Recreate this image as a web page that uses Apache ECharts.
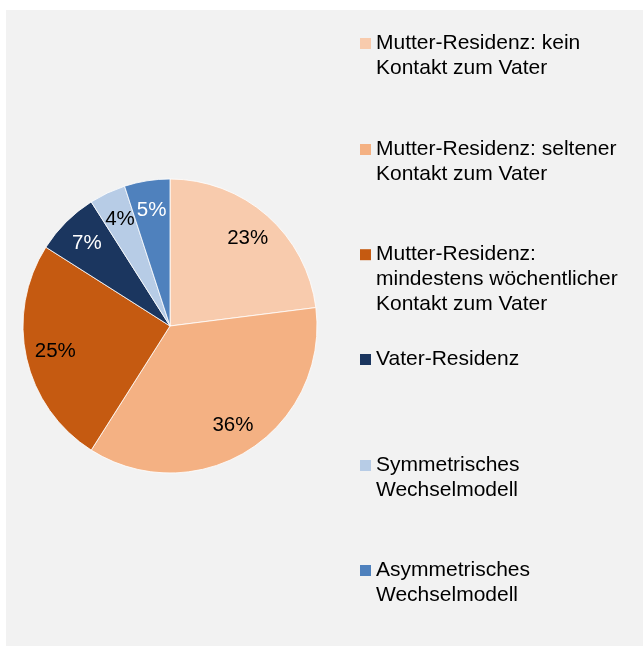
<!DOCTYPE html>
<html>
<head>
<meta charset="utf-8">
<script src="https://cdn.jsdelivr.net/npm/echarts@6/dist/echarts.min.js"></script>
<style>
    html, body { margin: 0; padding: 0; background: #ffffff; }
    #chart { width: 643px; height: 646px; }
</style>
</head>
<body>
<div id="chart"></div>
<script>
// data
var categories = [
    'Mutter-Residenz: kein Kontakt zum Vater',
    'Mutter-Residenz: seltener Kontakt zum Vater',
    'Mutter-Residenz: mindestens wöchentlicher Kontakt zum Vater',
    'Vater-Residenz',
    'Symmetrisches Wechselmodell',
    'Asymmetrisches Wechselmodell'
];
var values = [23, 36, 25, 7, 4, 5];
var legendLines = [
    ['Mutter-Residenz: kein', 'Kontakt zum Vater'],
    ['Mutter-Residenz: seltener', 'Kontakt zum Vater'],
    ['Mutter-Residenz:', 'mindestens wöchentlicher', 'Kontakt zum Vater'],
    ['Vater-Residenz'],
    ['Symmetrisches', 'Wechselmodell'],
    ['Asymmetrisches', 'Wechselmodell']
];
var colors = ['#F8CBAD', '#F4B183', '#C55A11', '#1B365F', '#B7CCE6', '#4F81BD'];
var labelColors = ['#000000', '#000000', '#000000', '#ffffff', '#000000', '#ffffff'];

var font = '"Liberation Sans", Arial, sans-serif';
var lineH = 25;
// y of the first text line of each legend entry
var legendRowY = [43.5, 149.5, 254.7, 359.5, 465.5, 570.5];

var pieData = [];
var labelData = [];
for (var i = 0; i < categories.length; i++) {
    pieData.push({
        name: categories[i],
        value: values[i],
        itemStyle: {color: colors[i]}
    });
    labelData.push({
        name: categories[i],
        value: values[i],
        label: {color: labelColors[i]}
    });
}

// one legend per entry, so the icon sits on the first text line:
// empty lines above keep the first line in the middle of the block
var legends = [];
for (var k = 0; k < categories.length; k++) {
    (function (idx) {
        var n = legendLines[idx].length;
        var pad = '';
        for (var j = 1; j < n; j++) pad += '\n';
        legends.push({
            orient: 'vertical',
            left: 360,
            top: legendRowY[idx] - (2 * n - 1) * lineH / 2,
            padding: 0,
            itemWidth: 11,
            itemHeight: 11,
            icon: 'rect',
            itemStyle: {borderWidth: 0},
            selectedMode: false,
            data: [categories[idx]],
            formatter: function () {
                return pad + legendLines[idx].join('\n');
            },
            textStyle: {
                fontFamily: font,
                fontSize: 21,
                color: '#000000',
                lineHeight: lineH
            }
        });
    })(k);
}

var myChart = echarts.init(document.getElementById('chart'));
var option = {
    animation: false,
    backgroundColor: '#ffffff',
    graphic: [{
        type: 'rect',
        z: -10,
        shape: {x: 6, y: 10, width: 637, height: 636},
        style: {fill: '#F2F2F2'}
    }],
    legend: legends,
    series: [{
        type: 'pie',
        center: [170, 326],
        radius: [0, 147],
        startAngle: 90,
        clockwise: true,
        silent: true,
        itemStyle: {borderColor: '#ffffff', borderWidth: 0.8},
        label: {show: false},
        labelLine: {show: false},
        data: pieData
    }, {
        type: 'pie',
        center: [170, 326],
        radius: [82, 147],
        startAngle: 90,
        clockwise: true,
        silent: true,
        itemStyle: {color: 'rgba(0,0,0,0)'},
        label: {
            show: true,
            position: 'inside',
            fontFamily: font,
            fontSize: 20.5,
            formatter: function (p) {
                return Math.round(p.percent) + '%';
            }
        },
        labelLine: {show: false},
        data: labelData
    }]
};
myChart.setOption(option);
</script>
</body>
</html>
